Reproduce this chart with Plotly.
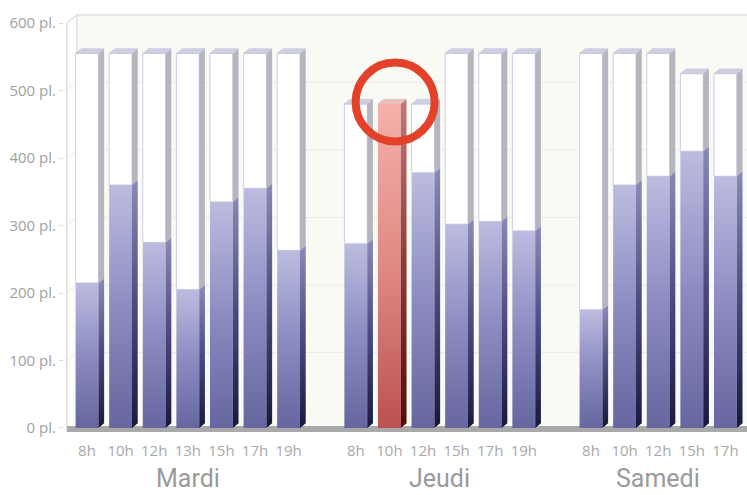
import plotly.graph_objects as go

# Parking occupancy per time slot ("pl." = places)
days = ["Mardi", "Jeudi", "Samedi"]

mardi_hours = ["8h", "10h", "12h", "13h", "15h", "17h", "19h"]
mardi_capacity = [555, 555, 555, 555, 555, 555, 555]
mardi_occupied = [215, 360, 275, 205, 335, 355, 263]

jeudi_hours = ["8h", "10h", "12h", "15h", "17h", "19h"]
jeudi_capacity = [480, 480, 480, 555, 555, 555]
jeudi_occupied = [273, 480, 378, 302, 306, 292]

samedi_hours = ["8h", "10h", "12h", "15h", "17h"]
samedi_capacity = [555, 555, 555, 525, 525]
samedi_occupied = [175, 360, 373, 410, 373]

highlight = ("Jeudi", "10h")

y_ticks = [0, 100, 200, 300, 400, 500, 600]
y_ticktext = ["0 pl.", "100 pl.", "200 pl.", "300 pl.", "400 pl.", "500 pl.", "600 pl."]

groups = [
    ("Mardi", mardi_hours, mardi_capacity, mardi_occupied),
    ("Jeudi", jeudi_hours, jeudi_capacity, jeudi_occupied),
    ("Samedi", samedi_hours, samedi_capacity, samedi_occupied),
]

# pseudo-3D bar geometry (x in slot units, y in places)
HW = 0.34     # half width of front face
DX = 0.17     # depth offset to the right
DY = 7        # depth offset upwards
WALL_DX = 0.30
WALL_DY = 12

BLUE_FRONT = [[0, "#6666a0"], [0.5, "#8c8cc2"], [1, "#bcbce0"]]
BLUE_SIDE = [[0, "#18183e"], [0.5, "#4a4a80"], [1, "#8a8ab8"]]
RED_FRONT = [[0, "#bb524f"], [0.5, "#e08a84"], [1, "#f6b0aa"]]
RED_SIDE = [[0, "#520c0c"], [0.5, "#8e3a3a"], [1, "#c07a78"]]

fig = go.Figure()


def poly(xs, ys, fillcolor=None, gradient=None, line=None):
    kw = dict(x=xs + [xs[0]], y=ys + [ys[0]], fill="toself",
              hoverinfo="skip", showlegend=False)
    if line:
        kw["mode"] = "lines"
        kw["line"] = line
    else:
        kw["mode"] = "none"
    if gradient:
        kw["fillgradient"] = dict(type="vertical", colorscale=gradient)
        kw["fillcolor"] = gradient[-1][1]
    else:
        kw["fillcolor"] = fillcolor
    fig.add_trace(go.Scatter(**kw))


tickvals, ticktext, group_centers = [], [], []
pos = 0
hl_pos, hl_val = None, None
for day, hours, caps, occ in groups:
    start = pos
    for h, c, v in zip(hours, caps, occ):
        p = pos
        is_hl = (day, h) == highlight
        front = RED_FRONT if is_hl else BLUE_FRONT
        side = RED_SIDE if is_hl else BLUE_SIDE
        xl, xr = p - HW, p + HW
        # empty part of the column
        if v < c:
            poly([xl, xr, xr, xl], [v, v, c, c], fillcolor="#ffffff",
                 line=dict(color="#cdcde6", width=1))
            poly([xr, xr + DX, xr + DX, xr], [v, v + DY, c + DY, c],
                 fillcolor="#b5b5bd")
        # top cap
        top_col = "#f0beb6" if is_hl else "#cfcfe4"
        poly([xl, xl + DX, xr + DX, xr], [c, c + DY, c + DY, c],
             fillcolor=top_col, line=dict(color="#c2c2da", width=0.6))
        # occupied part
        poly([xl, xr, xr, xl], [0, 0, v, v], gradient=front)
        poly([xr, xr + DX, xr + DX, xr], [0, DY, v + DY, v], gradient=side)
        if is_hl:
            hl_pos, hl_val = p, v
        tickvals.append(p)
        ticktext.append(h)
        pos += 1
    group_centers.append((day, (start + pos - 1) / 2))
    pos += 1

# axis mapping: 33.6 px per slot, 0.675 px per place
X_MIN, X_MAX = -0.6845, 19.643
Y_MIN, Y_MAX = -17.8, 619.3
LEFT = -0.6

shapes = [
    # back wall
    dict(type="rect", x0=LEFT + WALL_DX, x1=X_MAX, y0=0, y1=600 + WALL_DY,
         fillcolor="#fafaf4", line=dict(width=0), layer="below"),
    # side wall
    dict(type="path",
         path=f"M {LEFT},0 L {LEFT},600 L {LEFT + WALL_DX},{600 + WALL_DY} L {LEFT + WALL_DX},{WALL_DY} Z",
         fillcolor="#fdfdfb", line=dict(width=0), layer="below"),
]
for v in y_ticks[1:-1]:
    shapes.append(dict(type="line", x0=LEFT + WALL_DX, x1=X_MAX, y0=v + WALL_DY, y1=v + WALL_DY,
                       line=dict(color="#ebebe6", width=1), layer="below"))
    shapes.append(dict(type="line", x0=LEFT, x1=LEFT + WALL_DX, y0=v, y1=v + WALL_DY,
                       line=dict(color="#ebebe6", width=1), layer="below"))
frame = dict(color="#d2d2d2", width=1)
shapes += [
    dict(type="line", x0=LEFT, x1=LEFT, y0=0, y1=600, line=frame, layer="below"),
    dict(type="line", x0=LEFT, x1=LEFT + WALL_DX, y0=600, y1=600 + WALL_DY, line=frame, layer="below"),
    dict(type="line", x0=LEFT + WALL_DX, x1=X_MAX, y0=600 + WALL_DY, y1=600 + WALL_DY, line=frame, layer="below"),
    dict(type="line", x0=LEFT + WALL_DX, x1=LEFT + WALL_DX, y0=WALL_DY, y1=600 + WALL_DY, line=frame, layer="below"),
    # floor edge
    dict(type="rect", x0=LEFT, x1=X_MAX, y0=-6, y1=3,
         fillcolor="#a9a9a9", line=dict(width=0), layer="below"),
]
# highlight ring around the saturated slot
if hl_pos is not None:
    shapes.append(dict(type="circle", xref="x", yref="y", xsizemode="pixel", ysizemode="pixel",
                       xanchor=hl_pos + DX, yanchor=hl_val + 3,
                       x0=-39.5, x1=39.5, y0=-39.5, y1=39.5,
                       line=dict(color="#e4412b", width=8), fillcolor="rgba(0,0,0,0)",
                       layer="above"))

annotations = [
    dict(x=cx, y=-0.1256, xref="x", yref="paper", text=day, showarrow=False,
         font=dict(family="Roboto", size=25, color="#9a9a9a"),
         yanchor="bottom", borderpad=0)
    for day, cx in group_centers
]

fig.update_layout(
    width=747, height=495,
    margin=dict(l=64, r=0, t=10, b=55),
    paper_bgcolor="#ffffff", plot_bgcolor="#ffffff",
    font=dict(family="Open Sans", color="#a0a0a0"),
    shapes=shapes, annotations=annotations,
    xaxis=dict(range=[X_MIN, X_MAX], tickvals=tickvals, ticktext=ticktext,
               showgrid=False, zeroline=False, showline=False, ticks="",
               tickfont=dict(size=15, color="#a8a8a8"), fixedrange=True),
    yaxis=dict(range=[Y_MIN, Y_MAX], tickvals=y_ticks, ticktext=y_ticktext,
               showgrid=False, zeroline=False, showline=False,
               ticks="outside", ticklen=4, tickcolor="#dcdcdc",
               tickfont=dict(size=15, color="#a0a0a0"), fixedrange=True),
)

fig.write_html("out.html")
